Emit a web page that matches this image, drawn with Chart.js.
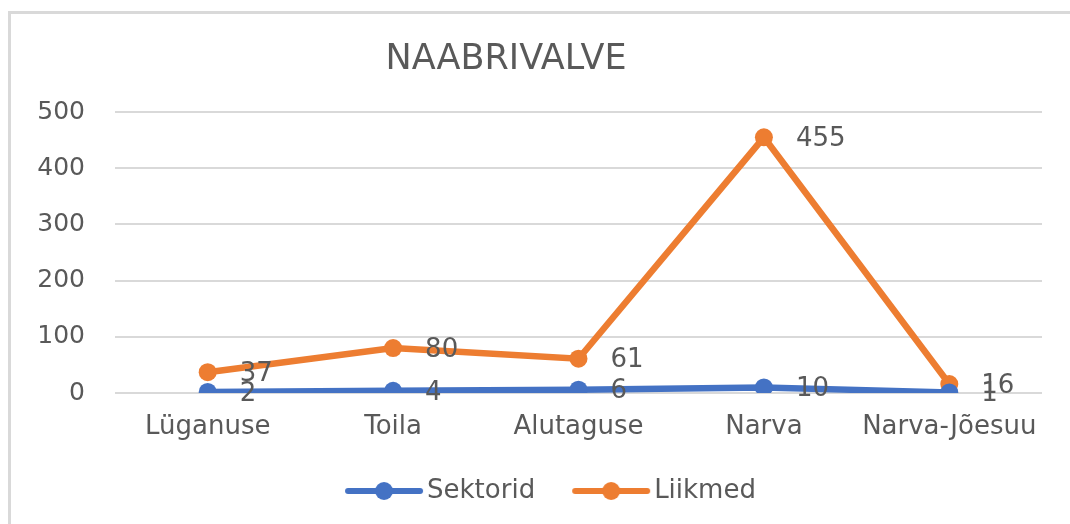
<!DOCTYPE html>
<html>
<head>
<meta charset="utf-8">
<script src="https://cdn.jsdelivr.net/npm/chart.js@4"></script>
<style>
    html, body { margin: 0; padding: 0; background: #fff; overflow: hidden; }
    #wrap { position: absolute; left: 0; top: 0; width: 1070px; height: 524px; }
</style>
</head>
<body>
<div id="wrap"><canvas id="myChart"></canvas></div>
<script>
const regions = ["Lüganuse", "Toila", "Alutaguse", "Narva", "Narva-Jõesuu"];
const sektorid = [2, 4, 6, 10, 1];
const liikmed = [37, 80, 61, 455, 16];
const yTicks = [0, 100, 200, 300, 400, 500];

const BLUE = "#4472c4";
const ORANGE = "#ed7d31";
const TEXT = "#595959";
const FONT = "'DejaVu Sans', sans-serif";

// legend swatch: a short line with a dot in the middle
function lineSwatch(color) {
    const c = document.createElement("canvas");
    c.width = 100;
    c.height = 20;
    const g = c.getContext("2d");
    g.strokeStyle = color;
    g.lineWidth = 6;
    g.lineCap = "round";
    g.beginPath();
    g.moveTo(19, 10);
    g.lineTo(91, 10);
    g.stroke();
    g.fillStyle = color;
    g.beginPath();
    g.arc(55, 10, 9, 0, Math.PI * 2);
    g.fill();
    return c;
}

// light frame along the top and left edge of the chart
const chartFrame = {
    id: "chartFrame",
    beforeDraw(chart) {
        const ctx = chart.ctx;
        ctx.save();
        ctx.fillStyle = "#d9d9d9";
        ctx.fillRect(8, 11, chart.width - 8, 3);
        ctx.fillRect(8, 11, 3, chart.height - 11);
        ctx.restore();
    }
};

// value labels to the right of every point
const valueLabels = {
    id: "valueLabels",
    afterDatasetsDraw(chart) {
        const ctx = chart.ctx;
        ctx.save();
        ctx.font = "26px " + FONT;
        ctx.fillStyle = TEXT;
        ctx.textAlign = "left";
        ctx.textBaseline = "middle";
        chart.data.datasets.forEach((ds, i) => {
            chart.getDatasetMeta(i).data.forEach((pt, j) => {
                ctx.fillText(String(ds.data[j]), pt.x + 32, pt.y + 2);
            });
        });
        ctx.restore();
    }
};

// nudge title a bit left and legend a bit right of the canvas centre
const boxShift = {
    id: "boxShift",
    afterLayout(chart) {
        const t = chart.titleBlock;
        if (t) { t.left -= 15; t.right -= 15; }
        const l = chart.legend;
        if (l) { l.left += 29; l.right += 29; }
    }
};

document.addEventListener("DOMContentLoaded", function () {
    const ctx = document.getElementById("myChart").getContext("2d");

    new Chart(ctx, {
        type: "line",
        data: {
            labels: regions,
            datasets: [{
                label: "Sektorid",
                data: sektorid,
                borderColor: BLUE,
                backgroundColor: BLUE,
                borderWidth: 6.5,
                pointRadius: 9,
                pointBorderWidth: 0,
                tension: 0
            }, {
                label: "Liikmed",
                data: liikmed,
                borderColor: ORANGE,
                backgroundColor: ORANGE,
                borderWidth: 6.5,
                pointRadius: 9,
                pointBorderWidth: 0,
                tension: 0
            }]
        },
        options: {
            responsive: true,
            maintainAspectRatio: false,
            animation: false,
            layout: { padding: { top: 0, right: 28, bottom: 10, left: 0 } },
            elements: { point: { pointStyle: "circle" } },
            scales: {
                x: {
                    offset: true,
                    grid: { display: false, drawTicks: false },
                    border: { display: false },
                    ticks: { color: TEXT, font: { family: FONT, size: 26 }, padding: 19, maxRotation: 0, autoSkip: false },
                    afterFit(scale) { scale.height = 49; }
                },
                y: {
                    min: 0,
                    max: 500,
                    afterBuildTicks(scale) { scale.ticks = yTicks.map(v => ({ value: v })); },
                    grid: { color: "#d9d9d9", lineWidth: 2, drawTicks: false },
                    border: { display: false },
                    ticks: { color: TEXT, font: { family: FONT, size: 25 }, padding: 30 },
                    afterFit(scale) { scale.width = 115; }
                }
            },
            plugins: {
                title: {
                    display: true,
                    text: "NAABRIVALVE",
                    color: TEXT,
                    font: { family: FONT, size: 35, weight: "normal" },
                    padding: { top: 39, bottom: 31 }
                },
                legend: {
                    position: "bottom",
                    labels: {
                        color: TEXT,
                        font: { family: FONT, size: 26 },
                        usePointStyle: true,
                        pointStyleWidth: 70,
                        padding: 36,
                        generateLabels(chart) {
                            return chart.data.datasets.map((ds, i) => ({
                                text: ds.label,
                                fontColor: TEXT,
                                pointStyle: lineSwatch(ds.borderColor),
                                lineWidth: 0,
                                hidden: false,
                                datasetIndex: i
                            }));
                        }
                    }
                },
                tooltip: { enabled: false }
            }
        },
        plugins: [chartFrame, valueLabels, boxShift]
    });
});
</script>
</body>
</html>
